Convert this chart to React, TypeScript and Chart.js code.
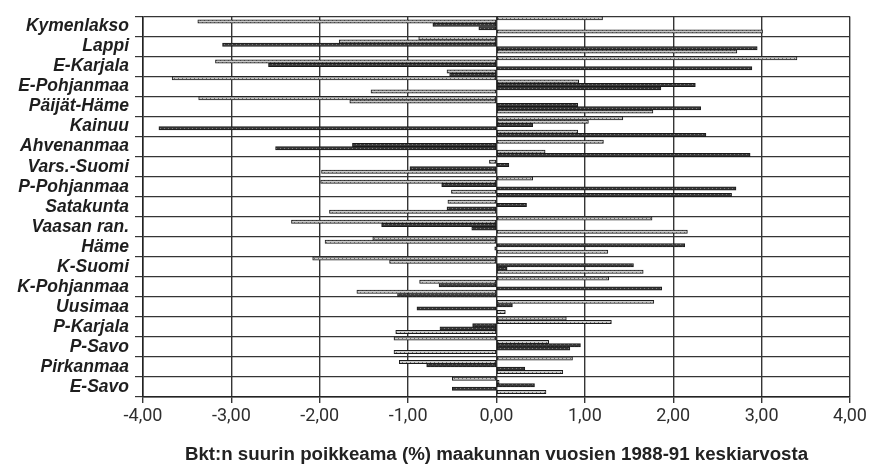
import React, { useEffect, useRef } from 'react';
import { Chart, registerables } from 'chart.js';

Chart.register(...registerables);

const regions = [
  'Kymenlakso', 'Lappi', 'E-Karjala', 'E-Pohjanmaa', 'Päijät-Häme', 'Kainuu',
  'Ahvenanmaa', 'Vars.-Suomi', 'P-Pohjanmaa', 'Satakunta', 'Vaasan ran.', 'Häme',
  'K-Suomi', 'K-Pohjanmaa', 'Uusimaa', 'P-Karjala', 'P-Savo', 'Pirkanmaa', 'E-Savo',
];

const series1 = [1.2, -0.88, 3.4, -3.67, -3.37, 1.43, 0, 0, 0.41, 0, 1.76, -1.4, -2.08, 1.27, 0, 0.79, -1.16, 0.86, -0.5];
const series2 = [-3.38, -1.78, -3.18, 0.93, -1.66, 1.04, 1.21, -0.08, -1.99, -0.55, -2.32, -1.94, -1.21, -0.87, 1.78, 1.3, 0.59, -1.1, 0.03];
const series3 = [-0.72, -3.1, -2.58, 2.25, 0.92, 0.41, -1.63, 0.14, -0.62, 0.34, -1.3, 2.13, 1.55, -0.65, 0.18, -0.27, 0.95, -0.79, 0.43];
const series4 = [-0.2, 2.95, 2.89, 1.86, 2.31, -3.82, -2.5, -0.98, 2.71, -0.56, -0.28, -0.02, 0.12, 1.87, -0.9, -0.64, 0.83, 0.32, -0.5];
const series5 = [3.01, 2.72, -0.56, -1.42, 1.77, 0.92, 0.55, -1.98, -0.51, -1.89, 2.16, 1.26, 1.66, -1.58, 0.1, -1.14, -1.16, 0.75, 0.56];
const series6 = [0, 0, -0.53, 0, 0, 2.37, 2.87, 0, 2.66, 0, 0, 0, 0, -1.12, 0, 0, 0, 0, 0];

const xMin = -4;
const xMax = 4;
const xStep = 1;
const axisTitle = 'Bkt:n suurin poikkeama (%) maakunnan vuosien 1988-91 keskiarvosta';

const seriesList = [series1, series2, series3, series4, series5, series6];
const seriesIsLight = [true, true, false, false, true, false];

function makePattern(light: boolean): CanvasPattern | string {
  const c = document.createElement('canvas');
  c.width = 4;
  c.height = 4;
  const g = c.getContext('2d');
  if (!g) return light ? '#b0b0b0' : '#3a3a3a';
  g.fillStyle = light ? '#c9c9c9' : '#3a3a3a';
  g.fillRect(0, 0, 4, 4);
  g.fillStyle = light ? '#6e6e6e' : '#7a7a7a';
  g.fillRect(0, 0, 1, 1);
  g.fillRect(2, 2, 1, 1);
  const p = g.createPattern(c, 'repeat');
  return p || (light ? '#b0b0b0' : '#3a3a3a');
}

export default function App() {
  const ref = useRef<HTMLCanvasElement>(null);

  useEffect(() => {
    document.body.style.margin = '0';
    const canvas = ref.current;
    if (!canvas) return;
    const lightFill = makePattern(true);
    const darkFill = makePattern(false);
    const chart = new Chart(canvas, {
      type: 'bar',
      data: {
        labels: regions,
        datasets: seriesList.map((d, i) => ({
          label: 'S' + (i + 1),
          data: d,
          backgroundColor: seriesIsLight[i] ? lightFill : darkFill,
          borderColor: '#1a1a1a',
          borderWidth: 1,
          borderSkipped: false,
          categoryPercentage: 1,
          barPercentage: 1,
        })),
      },
      options: {
        indexAxis: 'y',
        responsive: false,
        animation: false,
        devicePixelRatio: 1,
        layout: { padding: { top: 14, right: 23, left: 0, bottom: 0 } },
        plugins: { legend: { display: false }, tooltip: { enabled: false } },
        scales: {
          x: {
            type: 'linear',
            min: xMin,
            max: xMax,
            ticks: {
              stepSize: xStep,
              color: '#2e2e2e',
              padding: 3,
              font: { family: 'Roboto, sans-serif', size: 18 },
              callback: (v: any) => Number(v).toFixed(2).replace('.', ','),
            },
            grid: { color: '#353535', lineWidth: 1.4, tickLength: 6 },
            border: { color: '#222', width: 1.4 },
            title: {
              display: true,
              text: axisTitle,
              color: '#222',
              font: { family: "'Liberation Sans', Arial, sans-serif", weight: 'bold', size: 18.7 },
              padding: { top: 0, bottom: 5 },
            },
            afterFit: (s: any) => { s.height = 74; },
          },
          y: {
            grid: { offset: true, color: '#353535', lineWidth: 1.2, tickLength: 8 },
            border: { color: '#222', width: 1.5 },
            ticks: {
              autoSkip: false,
              padding: 6,
              color: '#1e1e1e',
              font: { family: "'Liberation Sans', Arial, sans-serif", weight: 'bold', style: 'italic', size: 17.5 },
            },
            afterFit: (s: any) => { s.width = 143; },
          },
        },
      },
    });
    return () => chart.destroy();
  }, []);

  return <canvas ref={ref} width={873} height={471} style={{ display: 'block' }} />;
}
